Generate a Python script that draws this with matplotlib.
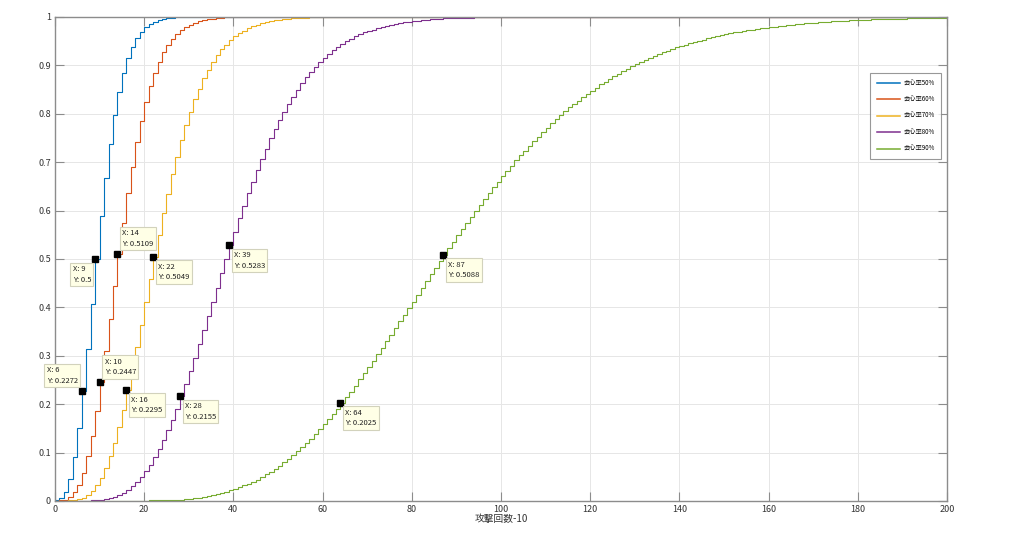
import numpy as np
import matplotlib
matplotlib.use("Agg")
import matplotlib.pyplot as plt

plt.rcParams['font.family'] = ['Noto Sans CJK JP', 'DejaVu Sans']

labels = ["会心率50%", "会心率60%", "会心率70%", "会心率80%", "会心率90%"]
colors = ["#0072BD", "#D95319", "#EDB120", "#7E2F8E", "#77AC30"]

# cumulative probability x1000 (x = 0, 1, 2, ...), flat at 1 afterwards
crit50 = [1, 6, 19, 46, 90, 151, 227, 315, 407, 500, 588, 668, 738, 798, 846, 885, 916, 939, 956, 969,
          979, 985, 990, 993, 995, 997, 998, 999, 999, 999, 1000]
crit60 = [0, 1, 3, 8, 18, 34, 58, 92, 135, 186, 245, 309, 376, 444, 511, 575, 636, 691, 741, 785,
          824, 857, 884, 908, 927, 942, 955, 965, 973, 980, 984, 988, 991, 993, 995, 996, 997, 998, 999, 999,
          999, 999, 1000]
crit70 = [0, 0, 0, 1, 2, 4, 7, 13, 21, 33, 48, 68, 92, 120, 153, 189, 230, 272, 318, 364,
          411, 458, 505, 550, 594, 635, 675, 711, 745, 776, 804, 830, 852, 873, 891, 907, 921, 933, 943, 952,
          960, 966, 972, 977, 981, 984, 987, 989, 991, 993, 994, 995, 996, 997, 997, 998, 998, 999, 999, 999,
          999, 999, 1000]
crit80 = [0, 0, 0, 0, 0, 0, 0, 0, 1, 2, 3, 4, 6, 9, 13, 17, 23, 30, 39, 49,
          61, 75, 90, 107, 125, 146, 168, 191, 216, 241, 268, 296, 324, 353, 383, 412, 441, 471, 500, 528,
          556, 584, 610, 636, 660, 684, 707, 728, 749, 768, 787, 804, 820, 835, 850, 863, 875, 886, 897, 907,
          915, 924, 931, 938, 944, 950, 955, 960, 964, 968, 971, 974, 977, 980, 982, 984, 986, 987, 989, 990,
          991, 992, 993, 994, 995, 995, 996, 997, 997, 997, 998, 998, 998, 998, 999, 999, 999, 999, 999, 999,
          999, 999, 1000]
crit90 = [0, 0, 0, 0, 0, 0, 0, 0, 0, 0, 0, 0, 0, 0, 0, 0, 0, 0, 0, 0,
          0, 1, 1, 1, 1, 2, 2, 3, 3, 4, 5, 6, 7, 9, 10, 12, 14, 16, 19, 22,
          25, 28, 32, 35, 40, 44, 49, 55, 60, 67, 73, 80, 87, 95, 103, 111, 120, 129, 139, 148,
          159, 169, 180, 191, 203, 214, 226, 238, 251, 264, 277, 290, 303, 316, 330, 343, 357, 371, 385, 399,
          412, 426, 440, 454, 468, 482, 495, 509, 522, 536, 549, 562, 575, 587, 600, 612, 624, 636, 648, 660,
          671, 682, 693, 704, 714, 724, 734, 744, 753, 762, 771, 780, 789, 797, 805, 813, 820, 827, 834, 841,
          848, 854, 861, 866, 872, 878, 883, 888, 893, 898, 903, 907, 911, 916, 919, 923, 927, 930, 934, 937,
          940, 943, 946, 948, 951, 953, 956, 958, 960, 962, 964, 966, 968, 969, 971, 973, 974, 975, 977, 978,
          979, 980, 981, 982, 983, 984, 985, 986, 987, 987, 988, 989, 989, 990, 991, 991, 992, 992, 993, 993,
          993, 994, 994, 995, 995, 995, 995, 996, 996, 996, 996, 997, 997, 997, 997, 997, 998, 998, 998, 998,
          998]

# data tips: (series index, x, label text, box side)
tips = [
    (0, 9, "X: 9\nY: 0.5", "ll"),
    (0, 6, "X: 6\nY: 0.2272", "ul"),
    (1, 14, "X: 14\nY: 0.5109", "ur"),
    (1, 10, "X: 10\nY: 0.2447", "ur"),
    (2, 22, "X: 22\nY: 0.5049", "lr"),
    (2, 16, "X: 16\nY: 0.2295", "lr"),
    (3, 39, "X: 39\nY: 0.5283", "lr"),
    (3, 28, "X: 28\nY: 0.2155", "lr"),
    (4, 87, "X: 87\nY: 0.5088", "lr"),
    (4, 64, "X: 64\nY: 0.2025", "lr"),
]

xmax = 200
x = np.arange(xmax + 1)
curves = []
for vals in [crit50, crit60, crit70, crit80, crit90]:
    y = np.ones(xmax + 1)
    y[:len(vals)] = np.array(vals[:xmax + 1]) / 1000.0
    curves.append(y)

fig = plt.figure(figsize=(10.24, 5.48), dpi=100)
ax = fig.add_axes([0.0537, 0.0858, 0.8711, 0.8832])
axis_gray = "#8c8c8c"

for y, c, lab in zip(curves, colors, labels):
    ax.plot(x, y, drawstyle="steps-post", color=c, lw=0.8, label=lab)

ax.set_xlim(0, 200)
ax.set_ylim(0, 1)
ax.set_xticks(np.arange(0, 201, 20))
ax.set_yticks(np.arange(0, 1.01, 0.1))
ax.set_yticklabels(["0", "0.1", "0.2", "0.3", "0.4", "0.5", "0.6", "0.7", "0.8", "0.9", "1"])
ax.tick_params(direction="in", length=6.5, width=0.8, colors=axis_gray, labelcolor="#333333",
               labelsize=6.5, top=True, right=True, pad=3)
for s in ax.spines.values():
    s.set_color(axis_gray)
    s.set_linewidth(1.0)
ax.grid(True, color="#e6e6e6", lw=0.7)
ax.set_axisbelow(True)
ax.set_xlabel("攻撃回数-10", fontsize=7, color="#333333", labelpad=0)

offs = {"lr": ((5, -6), "left", "top"), "ur": ((5, 6), "left", "bottom"),
        "ll": ((-4, -6), "right", "top"), "ul": ((-4, 6), "right", "bottom")}
for si, xi, txt, pos in tips:
    yi = curves[si][xi]
    ax.plot([xi], [yi], marker="s", ms=5, color="black", zorder=5)
    (dx, dy), ha, va = offs[pos]
    ax.annotate(txt, (xi, yi), xytext=(dx, dy), textcoords="offset pixels", ha=ha, va=va,
                multialignment="left", fontsize=5.5, color="#222222", linespacing=1.45, zorder=6,
                bbox=dict(boxstyle="square,pad=0.3", fc="#ffffe6", ec="#d2d2bc", lw=0.8))

leg = ax.legend(loc="upper right", bbox_to_anchor=(0.9933, 0.8843), fontsize=4.5, frameon=True,
                fancybox=False, edgecolor="#7f7f7f", handlelength=3.8, labelspacing=1.35,
                borderpad=1.0, handletextpad=0.5, borderaxespad=0)
leg.get_frame().set_linewidth(0.8)
for h in leg.get_lines():
    h.set_linewidth(1.1)

fig.savefig("out.png", dpi=100)
